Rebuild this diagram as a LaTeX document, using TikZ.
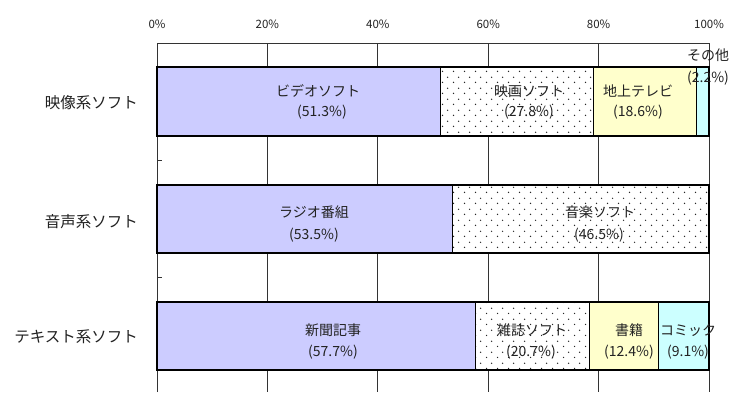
\documentclass[tikz,border=0pt]{standalone}
\usepackage{fontspec}
\setmainfont{Noto Sans CJK JP}
\usetikzlibrary{patterns}
\pgfdeclarepatternformonly{sparsedots}{\pgfqpoint{0pt}{0pt}}{\pgfqpoint{11pt}{11pt}}{\pgfqpoint{11pt}{11pt}}{%
  \pgfpathcircle{\pgfqpoint{2.75pt}{2.75pt}}{0.8pt}%
  \pgfpathcircle{\pgfqpoint{8.25pt}{8.25pt}}{0.8pt}%
  \pgfusepath{fill}}
\definecolor{lav}{HTML}{CCCCFF}
\definecolor{lyel}{HTML}{FFFFCC}
\definecolor{lcya}{HTML}{CCFFFF}
\definecolor{txt}{HTML}{222222}
\begin{document}
\begin{tikzpicture}[x=1pt,y=-1pt,
  gridline/.style={draw=black!80,line width=0.9pt},
  segbox/.style={draw=black,line width=1.2pt},
  seglabel/.style={inner sep=0pt,font=\fontsize{14}{16}\selectfont,text=txt},
  rowlabel/.style={inner sep=0pt,anchor=east,font=\fontsize{15.5}{17}\selectfont,text=txt},
  axislabel/.style={inner sep=0pt,font=\fontsize{11.5}{13}\selectfont,text=txt}]
\useasboundingbox (0,0) rectangle (737,392);
\fill[white] (0,0) rectangle (737,392);
% grid and frame
\foreach \p in {20,40,60,80} \draw[gridline] ({157+5.52*\p},43) -- ({157+5.52*\p},392);
\draw[gridline] (157,392) -- (157,43) -- (709,43) -- (709,392);
\foreach \yy in {160.5,277.5} \draw[gridline] (157,\yy) -- (162,\yy);
% axis labels
\foreach \p in {0,20,40,60,80,100} \node[axislabel] (ax\p) at ({157+5.52*\p},24) {\p\%};
% row 1
\fill[lav] (157,67) rectangle (440.2,136);
\draw[segbox] (157,67) rectangle (440.2,136);
\fill[white] (440.2,67) rectangle (593.6,136);
\fill[pattern=sparsedots,pattern color=black!85] (440.2,67) rectangle (593.6,136);
\draw[segbox] (440.2,67) rectangle (593.6,136);
\fill[lyel] (593.6,67) rectangle (696.3,136);
\draw[segbox] (593.6,67) rectangle (696.3,136);
\fill[lcya] (696.3,67) rectangle (709,136);
\draw[segbox] (696.3,67) rectangle (709,136);
% row 2
\fill[lav] (157,185) rectangle (452.3,253);
\draw[segbox] (157,185) rectangle (452.3,253);
\fill[white] (452.3,185) rectangle (709,253);
\fill[pattern=sparsedots,pattern color=black!85] (452.3,185) rectangle (709,253);
\draw[segbox] (452.3,185) rectangle (709,253);
% row 3
\fill[lav] (157,302) rectangle (475.5,370);
\draw[segbox] (157,302) rectangle (475.5,370);
\fill[white] (475.5,302) rectangle (589.8,370);
\fill[pattern=sparsedots,pattern color=black!85] (475.5,302) rectangle (589.8,370);
\draw[segbox] (475.5,302) rectangle (589.8,370);
\fill[lyel] (589.8,302) rectangle (658.2,370);
\draw[segbox] (589.8,302) rectangle (658.2,370);
\fill[lcya] (658.2,302) rectangle (709,370);
\draw[segbox] (658.2,302) rectangle (709,370);
% row labels
\node[rowlabel] (r1) at (138,103) {映像系ソフト};
\node[rowlabel] (r2) at (138,222) {音声系ソフト};
\node[rowlabel] (r3) at (138,337) {テキスト系ソフト};
% segment labels row 1
\node[seglabel] (v1) at (318,91) {ビデオソフト};
\node[seglabel] (v2) at (322,112) {(51.3\%)};
\node[seglabel] (m1) at (529,91) {映画ソフト};
\node[seglabel] (m2) at (529,112) {(27.8\%)};
\node[seglabel] (t1) at (638,91) {地上テレビ};
\node[seglabel] (t2) at (638,112) {(18.6\%)};
\node[seglabel] (o1) at (708,55) {その他};
\node[seglabel] (o2) at (708,78) {(2.2\%)};
% row 2
\node[seglabel] (ra1) at (314,212) {ラジオ番組};
\node[seglabel] (ra2) at (314,235) {(53.5\%)};
\node[seglabel] (mu1) at (600,212) {音楽ソフト};
\node[seglabel] (mu2) at (599,235) {(46.5\%)};
% row 3
\node[seglabel] (n1) at (333,330) {新聞記事};
\node[seglabel] (n2) at (333,352) {(57.7\%)};
\node[seglabel] (z1) at (532,330) {雑誌ソフト};
\node[seglabel] (z2) at (531,352) {(20.7\%)};
\node[seglabel] (b1) at (629,330) {書籍};
\node[seglabel] (b2) at (629,352) {(12.4\%)};
\node[seglabel] (c1) at (688,330) {コミック};
\node[seglabel] (c2) at (688,352) {(9.1\%)};
\end{tikzpicture}
\end{document}
